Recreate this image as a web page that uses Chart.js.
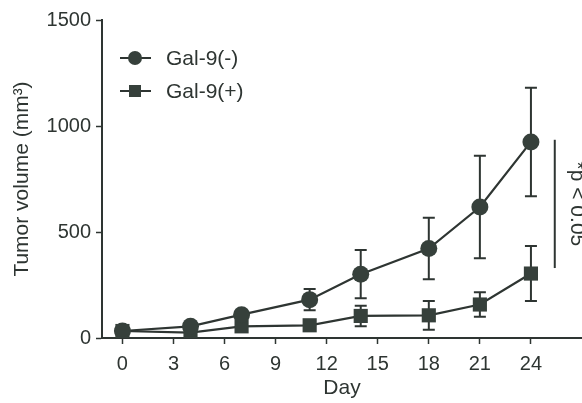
<!DOCTYPE html>
<html>
<head>
<meta charset="utf-8">
<script src="https://cdn.jsdelivr.net/npm/chart.js@4/dist/chart.umd.min.js"></script>
<style>
  html, body { margin: 0; padding: 0; background: #ffffff; }
  #wrap { width: 582px; height: 403px; }
</style>
</head>
<body>
<div id="wrap"><canvas id="myChart" width="582" height="403"></canvas></div>
<script>
// Days of measurement
const days = [0, 4, 7, 11, 14, 18, 21, 24];
// Gal-9(-) tumor volume (mm3) and error (SEM)
const galNeg = [33, 55, 110, 181, 301, 422, 618, 925];
const galNegErr = [8, 10, 12, 50, 114, 145, 242, 256];
// Gal-9(+) tumor volume (mm3) and error
const galPos = [33, 25, 55, 60, 104, 107, 158, 304];
const galPosErr = [8, 8, 12, 12, 48, 68, 58, 130];
// axis ticks
const xTicks = [0, 3, 6, 9, 12, 15, 18, 21, 24];
const yTicks = [0, 500, 1000, 1500];
// significance bracket (day position, top, bottom) and label
const sigBar = { x: 25.4, top: 935, bottom: 330, label: "*p < 0.05" };

const ink = '#2e3532';
const markFill = '#36403b';
const fontFam = '"Liberation Sans", Arial, Helvetica, sans-serif';

function toPoints(xs, ys) {
    return xs.map((x, i) => ({ x: x, y: ys[i] }));
}

// Barras de erro desenhadas com as escalas do gráfico
const errorBars = {
    id: 'errorBars',
    beforeDatasetsDraw(chart) {
        const ctx = chart.ctx;
        const xs = chart.scales.x;
        const ys = chart.scales.y;
        const sets = [[galNeg, galNegErr], [galPos, galPosErr]];
        ctx.save();
        ctx.strokeStyle = ink;
        ctx.lineWidth = 2;
        sets.forEach(([vals, errs]) => {
            days.forEach((d, i) => {
                const px = xs.getPixelForValue(d);
                const top = ys.getPixelForValue(vals[i] + errs[i]);
                const bot = ys.getPixelForValue(Math.max(vals[i] - errs[i], 0));
                ctx.beginPath();
                ctx.moveTo(px, top); ctx.lineTo(px, bot);
                ctx.moveTo(px - 6, top); ctx.lineTo(px + 6, top);
                ctx.moveTo(px - 6, bot); ctx.lineTo(px + 6, bot);
                ctx.stroke();
            });
        });
        ctx.restore();
    },
    afterDraw(chart) {
        const ctx = chart.ctx;
        const xs = chart.scales.x;
        const ys = chart.scales.y;
        ctx.save();
        // barra de significância
        const bx = xs.getPixelForValue(sigBar.x);
        ctx.strokeStyle = ink;
        ctx.lineWidth = 2;
        ctx.beginPath();
        ctx.moveTo(bx, ys.getPixelForValue(sigBar.top));
        ctx.lineTo(bx, ys.getPixelForValue(sigBar.bottom));
        ctx.stroke();
        // texto rodado
        const cy = (ys.getPixelForValue(sigBar.top) + ys.getPixelForValue(sigBar.bottom)) / 2;
        ctx.translate(bx + 16, cy);
        ctx.rotate(Math.PI / 2);
        ctx.fillStyle = ink;
        ctx.font = '21px ' + fontFam;
        ctx.textAlign = 'center';
        ctx.textBaseline = 'alphabetic';
        ctx.fillText(sigBar.label, 0, 0);
        ctx.restore();

        // legenda dentro da área do gráfico
        ctx.save();
        const items = [['Gal-9(-)', 'circle'], ['Gal-9(+)', 'rect']];
        items.forEach(([label, shape], i) => {
            const y = 58 + i * 33;
            ctx.strokeStyle = ink;
            ctx.lineWidth = 2;
            ctx.beginPath();
            ctx.moveTo(120, y); ctx.lineTo(151, y);
            ctx.stroke();
            ctx.fillStyle = markFill;
            ctx.beginPath();
            if (shape === 'circle') {
                ctx.arc(135, y, 7, 0, Math.PI * 2);
            } else {
                ctx.rect(129, y - 6, 12, 12);
            }
            ctx.fill();
            ctx.fillStyle = ink;
            ctx.font = '21px ' + fontFam;
            ctx.textAlign = 'left';
            ctx.textBaseline = 'middle';
            ctx.fillText(label, 166, y + 1);
        });
        ctx.restore();
    }
};

const ctx = document.getElementById('myChart');

new Chart(ctx, {
    type: 'line',
    data: {
        datasets: [
            {
                label: 'Gal-9(-)',
                data: toPoints(days, galNeg),
                borderColor: ink,
                backgroundColor: markFill,
                borderWidth: 2.2,
                pointStyle: 'circle',
                pointRadius: 8.5,
                pointBorderWidth: 0,
                tension: 0
            },
            {
                label: 'Gal-9(+)',
                data: toPoints(days, galPos),
                borderColor: ink,
                backgroundColor: markFill,
                borderWidth: 2.2,
                pointStyle: 'rect',
                pointRadius: 10,
                pointBorderWidth: 0,
                tension: 0
            }
        ]
    },
    options: {
        responsive: false,
        animation: false,
        layout: { autoPadding: false, padding: { top: 20, right: 0, left: 0, bottom: 0 } },
        plugins: {
            legend: { display: false },
            tooltip: { enabled: false }
        },
        scales: {
            x: {
                type: 'linear',
                min: -1.2,
                max: 27,
                afterBuildTicks: s => { s.ticks = xTicks.map(v => ({ value: v })); },
                afterFit: s => { s.height = 65; s.paddingRight = 0; s.paddingLeft = 0; },
                grid: { display: true, drawOnChartArea: false, drawTicks: true, tickLength: 6, tickWidth: 1.5, color: ink },
                border: { display: true, color: ink, width: 2 },
                ticks: { color: ink, padding: 8, font: { family: fontFam, size: 20 } },
                title: { display: true, text: 'Day', color: ink, padding: { top: 0, bottom: 2 }, font: { family: fontFam, size: 21 } }
            },
            y: {
                min: 0,
                max: 1500,
                afterBuildTicks: s => { s.ticks = yTicks.map(v => ({ value: v })); },
                afterFit: s => { s.width = 102; },
                grid: { display: true, drawOnChartArea: false, drawTicks: true, tickLength: 6, tickWidth: 1.5, color: ink },
                border: { display: true, color: ink, width: 2 },
                ticks: { color: ink, padding: 5, font: { family: fontFam, size: 20 }, callback: v => String(v) },
                title: { display: true, text: 'Tumor volume (mm³)', color: ink, padding: { top: 10, bottom: 0 }, font: { family: fontFam, size: 21 } }
            }
        }
    },
    plugins: [errorBars]
});
</script>
</body>
</html>
